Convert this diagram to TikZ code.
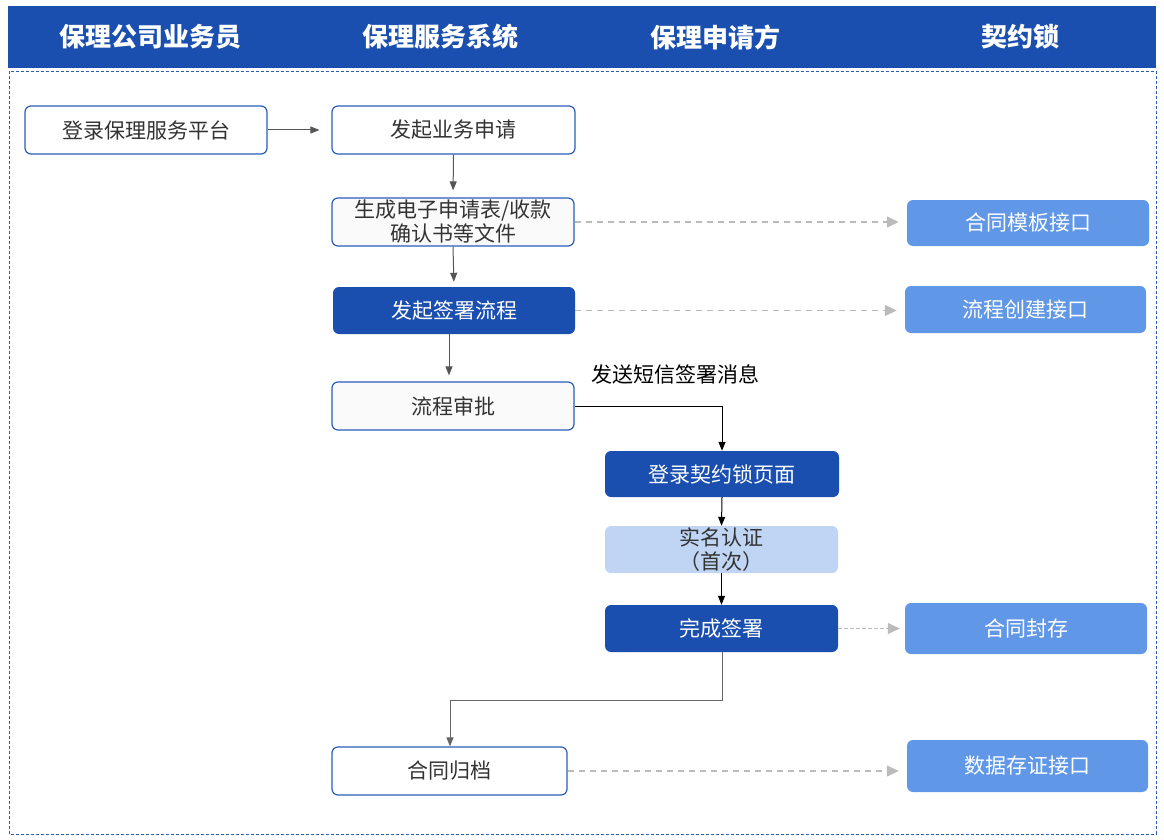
\documentclass[tikz,border=0pt]{standalone}
\usepackage{fontspec}
\setmainfont{Noto Sans CJK SC}
\usetikzlibrary{arrows.meta,positioning}
\definecolor{hdr}{HTML}{1A4FAF}
\definecolor{bord}{HTML}{2A5DB8}
\definecolor{dk}{HTML}{1A4FAF}
\definecolor{mid}{HTML}{6097E6}
\definecolor{lt}{HTML}{BFD5F3}
\definecolor{txt}{HTML}{333333}
\definecolor{dashgray}{HTML}{BBBBBB}
\definecolor{conn}{HTML}{555555}
\tikzset{
  base/.style={rounded corners=6pt, align=center, inner sep=0pt, font=\fontsize{21}{24}\selectfont},
  wbox/.style={base, draw=bord, line width=1.2pt, fill=white, text=txt},
  gbox/.style={base, draw=bord, line width=1.2pt, fill=black!2, text=txt},
  dbox/.style={base, fill=dk, text=white},
  lbox/.style={base, fill=lt, text=txt},
  mbox/.style={base, fill=mid, text=white},
  hdrtext/.style={text=white, font=\fontsize{26}{30}\selectfont\bfseries},
  solidarr/.style={-{Triangle[length=9pt,width=7pt]}, conn, line width=1pt},
  blackarr/.style={-{Triangle[length=9pt,width=7pt]}, black, line width=1pt},
  dasharr/.style={-{Triangle[length=12pt,width=11pt]}, dashgray, line width=1.3pt, dash pattern=on 6pt off 5pt},
}
\begin{document}
\begin{tikzpicture}[x=1pt,y=-1pt]
\useasboundingbox (0,0) rectangle (1164,840);
% header
\fill[hdr] (8,6) rectangle (1156,68);
\node[hdrtext] (h1) at (150,37) {保理公司业务员};
\node[hdrtext] (h2) at (440,37) {保理服务系统};
\node[hdrtext] (h3) at (715,37) {保理申请方};
\node[hdrtext] (h4) at (1020,37) {契约锁};
% dashed frame
\draw[bord, line width=0.9pt, dash pattern=on 3pt off 2pt] (9,71) rectangle (1156,834);
% nodes
\node[wbox, minimum width=242pt, minimum height=48pt] (n1) at (146,130) {登录保理服务平台};
\node[wbox, minimum width=243pt, minimum height=48pt] (n2) at (453.5,130) {发起业务申请};
\node[gbox, minimum width=242pt, minimum height=48pt] (n3) at (453,222) {生成电子申请表/收款\\确认书等文件};
\node[dbox, minimum width=242pt, minimum height=47pt] (n4) at (454,310.5) {发起签署流程};
\node[gbox, minimum width=242pt, minimum height=48pt] (n5) at (453,406) {流程审批};
\node[dbox, minimum width=234pt, minimum height=46pt] (n6) at (722,474) {登录契约锁页面};
\node[lbox, minimum width=233pt, minimum height=47pt] (n7) at (721.5,549.5) {实名认证\\（首次）};
\node[dbox, minimum width=233pt, minimum height=47pt] (n8) at (721.5,628.5) {完成签署};
\node[wbox, minimum width=235pt, minimum height=48pt] (n9) at (449.5,771) {合同归档};
\node[mbox, minimum width=242pt, minimum height=46pt] (r1) at (1028,223) {合同模板接口};
\node[mbox, minimum width=241pt, minimum height=47pt] (r2) at (1025.5,309.5) {流程创建接口};
\node[mbox, minimum width=242pt, minimum height=51pt] (r3) at (1026,628.5) {合同封存};
\node[mbox, minimum width=241pt, minimum height=52pt] (r4) at (1027.5,766) {数据存证接口};
\node[font=\fontsize{21}{24}\selectfont, text=black, anchor=west, inner sep=0pt] (lbl) at (591,374) {发送短信签署消息};
% connectors
\draw[solidarr, shorten >=12pt] (n1.east) -- (n2.west);
\draw[solidarr, shorten >=7pt] (n2.south) -- (n3.north);
\draw[solidarr, shorten >=5pt] (n3.south) -- (n4.north);
\draw[solidarr, shorten >=6pt] (n4.south -| 449,0) -- (n5.north -| 449,0);
\draw[blackarr] (n5.east) -| (n6.north);
\draw[blackarr] (n6.south) -- (n7.north);
\draw[blackarr] (n7.south) -- (n8.north);
\coordinate (k1) at (722,700);
\coordinate (k2) at (450,700);
\draw[solidarr, color=black!60] (n8.south -| k1) -- (k1) -- (k2) -- (n9.north -| k2);
\draw[dasharr, shorten >=8pt] (n3.east) -- (n3.east -| r1.west);
\draw[dasharr, shorten >=8pt] (n4.east) -- (n4.east -| r2.west);
\draw[dasharr, shorten >=5pt, dash pattern=on 4pt off 2pt, line width=1pt] (n8.east) -- (n8.east -| r3.west);
\draw[dasharr, shorten >=8pt] (n9.east) -- (n9.east -| r4.west);
\end{tikzpicture}
\end{document}
